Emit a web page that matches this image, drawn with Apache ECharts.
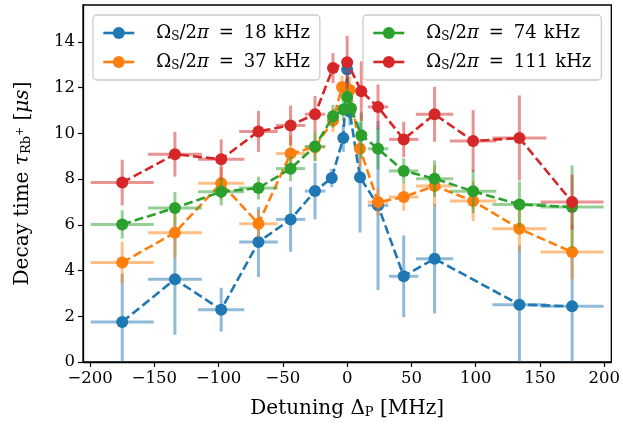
<!DOCTYPE html>
<html><head><meta charset="utf-8">
<script src="https://cdn.jsdelivr.net/npm/echarts@6/dist/echarts.min.js"></script>
<style>html,body{margin:0;padding:0;background:#fff}#c{width:623px;height:430px}</style>
</head><body><div id="c"></div>
<script>
// ---- data ----
const xTicks = [-200, -150, -100, -50, 0, 50, 100, 150, 200];
const yTicks = [0, 2, 4, 6, 8, 10, 12, 14];

const det18  = [-175, -134, -98, -69, -44, -25, -12, -3, 0, 2, 10, 24, 44, 68, 134, 175];
const tau18  = [1.75, 3.62, 2.29, 5.25, 6.24, 7.48, 8.05, 9.8, 12.8, 10.95, 8.08, 6.85, 3.75, 4.52, 2.51, 2.44];
const dDet18 = [24.5, 21, 18, 15, 11.4, 8, 3, 1.5, 1, 1.5, 3, 8, 11.4, 14.5, 21, 24.5];
const dTau18 = [2.1, 2.43, 0.96, 1.53, 1.42, 1.24, 0.4, 0.6, 0.5, 0.6, 2.42, 3.7, 1.79, 2.4, 2.6, 2.5];

const det37  = [-175, -134, -98, -69, -44, -25, -11, -4, 2, 10, 24, 44, 68, 98, 134, 175];
const tau37  = [4.35, 5.66, 7.82, 6.05, 9.12, 9.4, 10.57, 12.03, 11.9, 9.33, 7.0, 7.22, 7.7, 7.04, 5.83, 4.81];
const dDet37 = [24.5, 21, 18, 15, 11.4, 8, 3, 1.5, 1.5, 3, 8, 11.4, 14.5, 18, 21, 24.5];
const dTau37 = [0.91, 1.09, 0.7, 0.6, 0.8, 0.6, 0.5, 0.5, 0.6, 0.8, 0.6, 0.6, 0.9, 0.87, 1.0, 1.2];

const det74  = [-175, -134, -98, -69, -44, -25, -11, -3, 0, 3, 11, 24, 44, 68, 98, 134, 175];
const tau74  = [6.02, 6.74, 7.45, 7.61, 8.46, 9.43, 10.75, 11.05, 11.6, 11.1, 9.92, 9.33, 8.36, 8.02, 7.47, 6.89, 6.78];
const dDet74 = [24.5, 21, 18, 15, 11.4, 8, 3, 1.5, 1, 1.5, 3, 8, 11.4, 14.5, 18, 21, 24.5];
const dTau74 = [0.62, 0.7, 0.6, 0.5, 0.55, 0.65, 0.5, 0.5, 0.5, 0.5, 1.0, 0.9, 0.55, 0.8, 0.95, 1.0, 1.82];

const det111  = [-175, -134, -98, -69, -44, -25, -11, 0, 11, 24, 44, 68, 98, 134, 175];
const tau111  = [7.85, 9.09, 8.87, 10.09, 10.35, 10.84, 12.86, 13.12, 11.85, 11.16, 9.74, 10.84, 9.67, 9.8, 7.0];
const dDet111 = [24.5, 21, 18, 15, 11.4, 8, 3, 1, 3, 8, 11.4, 14.5, 18, 21, 24.5];
const dTau111 = [1.0, 0.98, 0.87, 0.9, 0.87, 0.8, 0.66, 1.15, 1.3, 0.98, 0.77, 1.2, 1.35, 1.86, 1.2];

const seriesNames = ['18', '37', '74', '111'];
const colors = ['#1f77b4', '#ff7f0e', '#2ca02c', '#d62728'];
const dets = [det18, det37, det74, det111];
const taus = [tau18, tau37, tau74, tau111];
const dDets = [dDet18, dDet37, dDet74, dDet111];
const dTaus = [dTau18, dTau37, dTau74, dTau111];

// ---- chart ----
const FONT = 'DejaVu Serif';
const chart = echarts.init(document.getElementById('c'), null, {renderer: 'canvas'});

function errRender(color) {
  return function (params, api) {
    const x = api.value(0), y = api.value(1), xe = api.value(2), ye = api.value(3);
    const a = api.coord([x - xe, y]), b = api.coord([x + xe, y]);
    const c = api.coord([x, y - ye]), d = api.coord([x, y + ye]);
    const st = {stroke: color, lineWidth: 3, opacity: 0.5, lineCap: 'butt'};
    return {type: 'group', children: [
      {type: 'line', shape: {x1: a[0], y1: a[1], x2: b[0], y2: b[1]}, style: st},
      {type: 'line', shape: {x1: c[0], y1: c[1], x2: d[0], y2: d[1]}, style: st}
    ]};
  };
}

const series = [];
seriesNames.forEach((nm, i) => {
  series.push({
    type: 'custom', name: 'err' + nm, clip: true, z: 2 + 2 * i,
    renderItem: errRender(colors[i]),
    encode: {x: 0, y: 1},
    data: dets[i].map((x, k) => [x, taus[i][k], dDets[i][k], dTaus[i][k]]),
    silent: true
  });
  series.push({
    type: 'line', name: nm, z: 3 + 2 * i,
    data: dets[i].map((x, k) => [x, taus[i][k]]),
    symbol: 'circle', symbolSize: 12, showAllSymbol: true,
    lineStyle: {width: 2.6, type: [9, 4], color: colors[i]},
    itemStyle: {color: colors[i]},
    emphasis: {disabled: true}, silent: true
  });
});

const LF = 18;
const legRich = {
  o: {fontFamily: FONT, fontSize: LF, padding: [0, 0, 0, 17], color: '#000'},
  s: {fontFamily: FONT, fontSize: 12, padding: [7, 0, 0, 0], color: '#000'},
  t: {fontFamily: FONT, fontSize: LF, color: '#000'},
  i: {fontFamily: FONT, fontSize: LF, fontStyle: 'italic', color: '#000'},
  e: {fontFamily: FONT, fontSize: LF, padding: [0, 10, 0, 10], color: '#000'},
  u: {fontFamily: FONT, fontSize: LF, padding: [0, 0, 0, 7], color: '#000'}
};
function legFmt(name) {
  return '{o|Ω}{s|S}{t|/2}{i|π}{e|=}{t|' + name + '}{u|kHz}';
}
const legBase = {
  orient: 'vertical', top: 15, z: 20,
  itemWidth: 31, itemHeight: 15, itemGap: 7,
  padding: [7, 10, 7, 9],
  backgroundColor: 'rgba(255,255,255,0.8)',
  borderColor: '#cccccc', borderWidth: 1.3, borderRadius: 4,
  lineStyle: {type: 'solid', width: 2.6},
  formatter: legFmt,
  textStyle: {fontFamily: FONT, fontSize: LF, lineHeight: 22, rich: legRich},
  selectedMode: false
};

const axisName = {fontFamily: FONT, fontSize: 20, color: '#000'};
chart.setOption({
  animation: false,
  grid: {left: 83, right: 11, top: 5, bottom: 68, show: true, borderColor: '#000', borderWidth: 1.3, backgroundColor: 'transparent'},
  legend: [
    Object.assign({}, legBase, {left: 93, data: ['18', '37']}),
    Object.assign({}, legBase, {left: 363, data: ['74', '111']})
  ],
  xAxis: {
    type: 'value', min: -205.5, max: 205.5,
    splitLine: {show: false},
    axisLine: {show: true, onZero: false, lineStyle: {color: '#000', width: 1.3}},
    axisTick: {show: true, length: 5, lineStyle: {color: '#000', width: 1.2}, customValues: xTicks},
    axisLabel: {color: '#000', fontFamily: FONT, fontSize: 16.5, margin: 8, customValues: xTicks,
      formatter: v => String(v).replace('-', '\u2212')},
    name: '{t|Detuning Δ}{s|P}{t| [MHz]}', nameLocation: 'middle', nameGap: 36,
    nameTextStyle: {rich: {t: axisName, s: {fontFamily: FONT, fontSize: 13, padding: [8, 0, 0, 0], color: '#000'}}}
  },
  yAxis: {
    type: 'value', min: 0, max: 15.62,
    splitLine: {show: false},
    axisLine: {show: true, onZero: false, lineStyle: {color: '#000', width: 1.3}},
    axisTick: {show: true, length: 5, lineStyle: {color: '#000', width: 1.2}, customValues: yTicks},
    axisLabel: {color: '#000', fontFamily: FONT, fontSize: 16.5, margin: 8, customValues: yTicks},
    name: '{t|Decay time }{i|τ}{s|Rb}{p|+}{t| [}{i|μs}{t|]}', nameLocation: 'middle', nameGap: 50, nameRotate: 90,
    nameTextStyle: {rich: {
      t: axisName,
      i: Object.assign({}, axisName, {fontStyle: 'italic'}),
      s: {fontFamily: FONT, fontSize: 13, padding: [8, 0, 0, 0], color: '#000'},
      p: {fontFamily: FONT, fontSize: 11, padding: [0, 0, 4, 0], color: '#000'}
    }}
  },
  series: series
});
</script>
</body></html>
